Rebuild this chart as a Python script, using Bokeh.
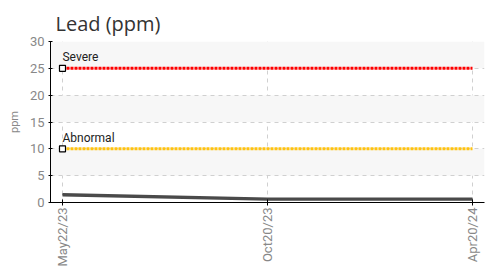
import math
from bokeh.plotting import figure
from bokeh.models import ColumnDataSource, FixedTicker, Label
from bokeh.embed import file_html
from bokeh.resources import INLINE

# ---- data ----
dates = ["May22/23", "Oct20/23", "Apr20/24"]
lead_upper = [1.6, 0.75, 0.75]
lead_lower = [1.3, 0.5, 0.5]
severe_level = 25
abnormal_level = 10
y_ticks = [0, 5, 10, 15, 20, 25, 30]

xs = list(range(len(dates)))

FONT = "Roboto"

p = figure(frame_width=434, frame_height=161, output_backend="svg",
           toolbar_location=None,
           x_range=(-0.0585, 2.0585), y_range=(0, 30),
           min_border_left=50, min_border_right=8, min_border_top=41,
           min_border_bottom=66, title="Lead (ppm)")
p.outline_line_color = None

p.title.text_font = "Open Sans"
p.title.text_font_size = "20px"
p.title.text_font_style = "normal"
p.title.text_color = "#333333"
p.title.offset = 5

# grids
p.ygrid.ticker = FixedTicker(ticks=y_ticks)
p.ygrid.grid_line_color = "#d0d0d0"
p.ygrid.grid_line_dash = "4 4"
p.ygrid.band_fill_color = "#f7f7f7"
p.ygrid.band_fill_alpha = 1.0
p.xgrid.ticker = FixedTicker(ticks=xs)
p.xgrid.grid_line_color = "#d0d0d0"
p.xgrid.grid_line_dash = "4 4"

# axes
p.yaxis.ticker = FixedTicker(ticks=y_ticks)
p.yaxis.axis_label = "ppm"
p.yaxis.axis_label_text_font = FONT
p.yaxis.axis_label_text_font_size = "11px"
p.yaxis.axis_label_text_font_style = "normal"
p.yaxis.axis_label_text_color = "#888888"
p.yaxis.axis_label_standoff = 6
p.yaxis.major_label_text_font = FONT
p.yaxis.major_label_text_font_size = "13px"
p.yaxis.major_label_text_color = "#888888"
p.yaxis.major_label_standoff = 4
p.yaxis.minor_tick_line_color = None
p.yaxis.major_tick_in = 2
p.yaxis.major_tick_out = 2
p.yaxis.axis_line_color = "#000000"
p.yaxis.major_tick_line_color = "#000000"

p.xaxis.ticker = FixedTicker(ticks=xs)
p.xaxis.major_label_overrides = {i: d for i, d in enumerate(dates)}
p.xaxis.major_label_orientation = math.pi / 2
p.xaxis.major_label_text_font = FONT
p.xaxis.major_label_text_font_size = "13px"
p.xaxis.major_label_text_color = "#888888"
p.xaxis.major_label_standoff = 2
p.xaxis.minor_tick_line_color = None
p.xaxis.major_tick_in = 3
p.xaxis.major_tick_out = 3
p.xaxis.axis_line_color = "#000000"
p.xaxis.major_tick_line_color = "#000000"

# threshold lines
p.line(x=[xs[0], xs[-1]], y=[severe_level] * 2, line_color="#ff0000",
       line_width=3, line_dash="3 1")
p.line(x=[xs[0], xs[-1]], y=[abnormal_level] * 2, line_color="#ffc20e",
       line_width=3, line_dash="3 1")
p.scatter(x=[xs[0], xs[0]], y=[severe_level, abnormal_level], marker="square",
          size=6, fill_color="white", line_color="black", line_width=1.2)

for lvl, txt in [(severe_level, "Severe"), (abnormal_level, "Abnormal")]:
    p.add_layout(Label(x=xs[0], y=lvl, text=txt, x_offset=0, y_offset=4,
                       text_baseline="bottom",
                       text_font=FONT, text_font_size="12px",
                       text_color="#222222"))

# data band
src = ColumnDataSource(dict(x=xs, hi=lead_upper, lo=lead_lower))
p.varea(x="x", y1="lo", y2="hi", source=src, fill_color="#8a8a8a")
p.line(x="x", y="hi", source=src, line_color="#4a4a4a", line_width=2)
p.line(x="x", y="lo", source=src, line_color="#4a4a4a", line_width=2)

open("out.html", "w").write(file_html(p, INLINE))
